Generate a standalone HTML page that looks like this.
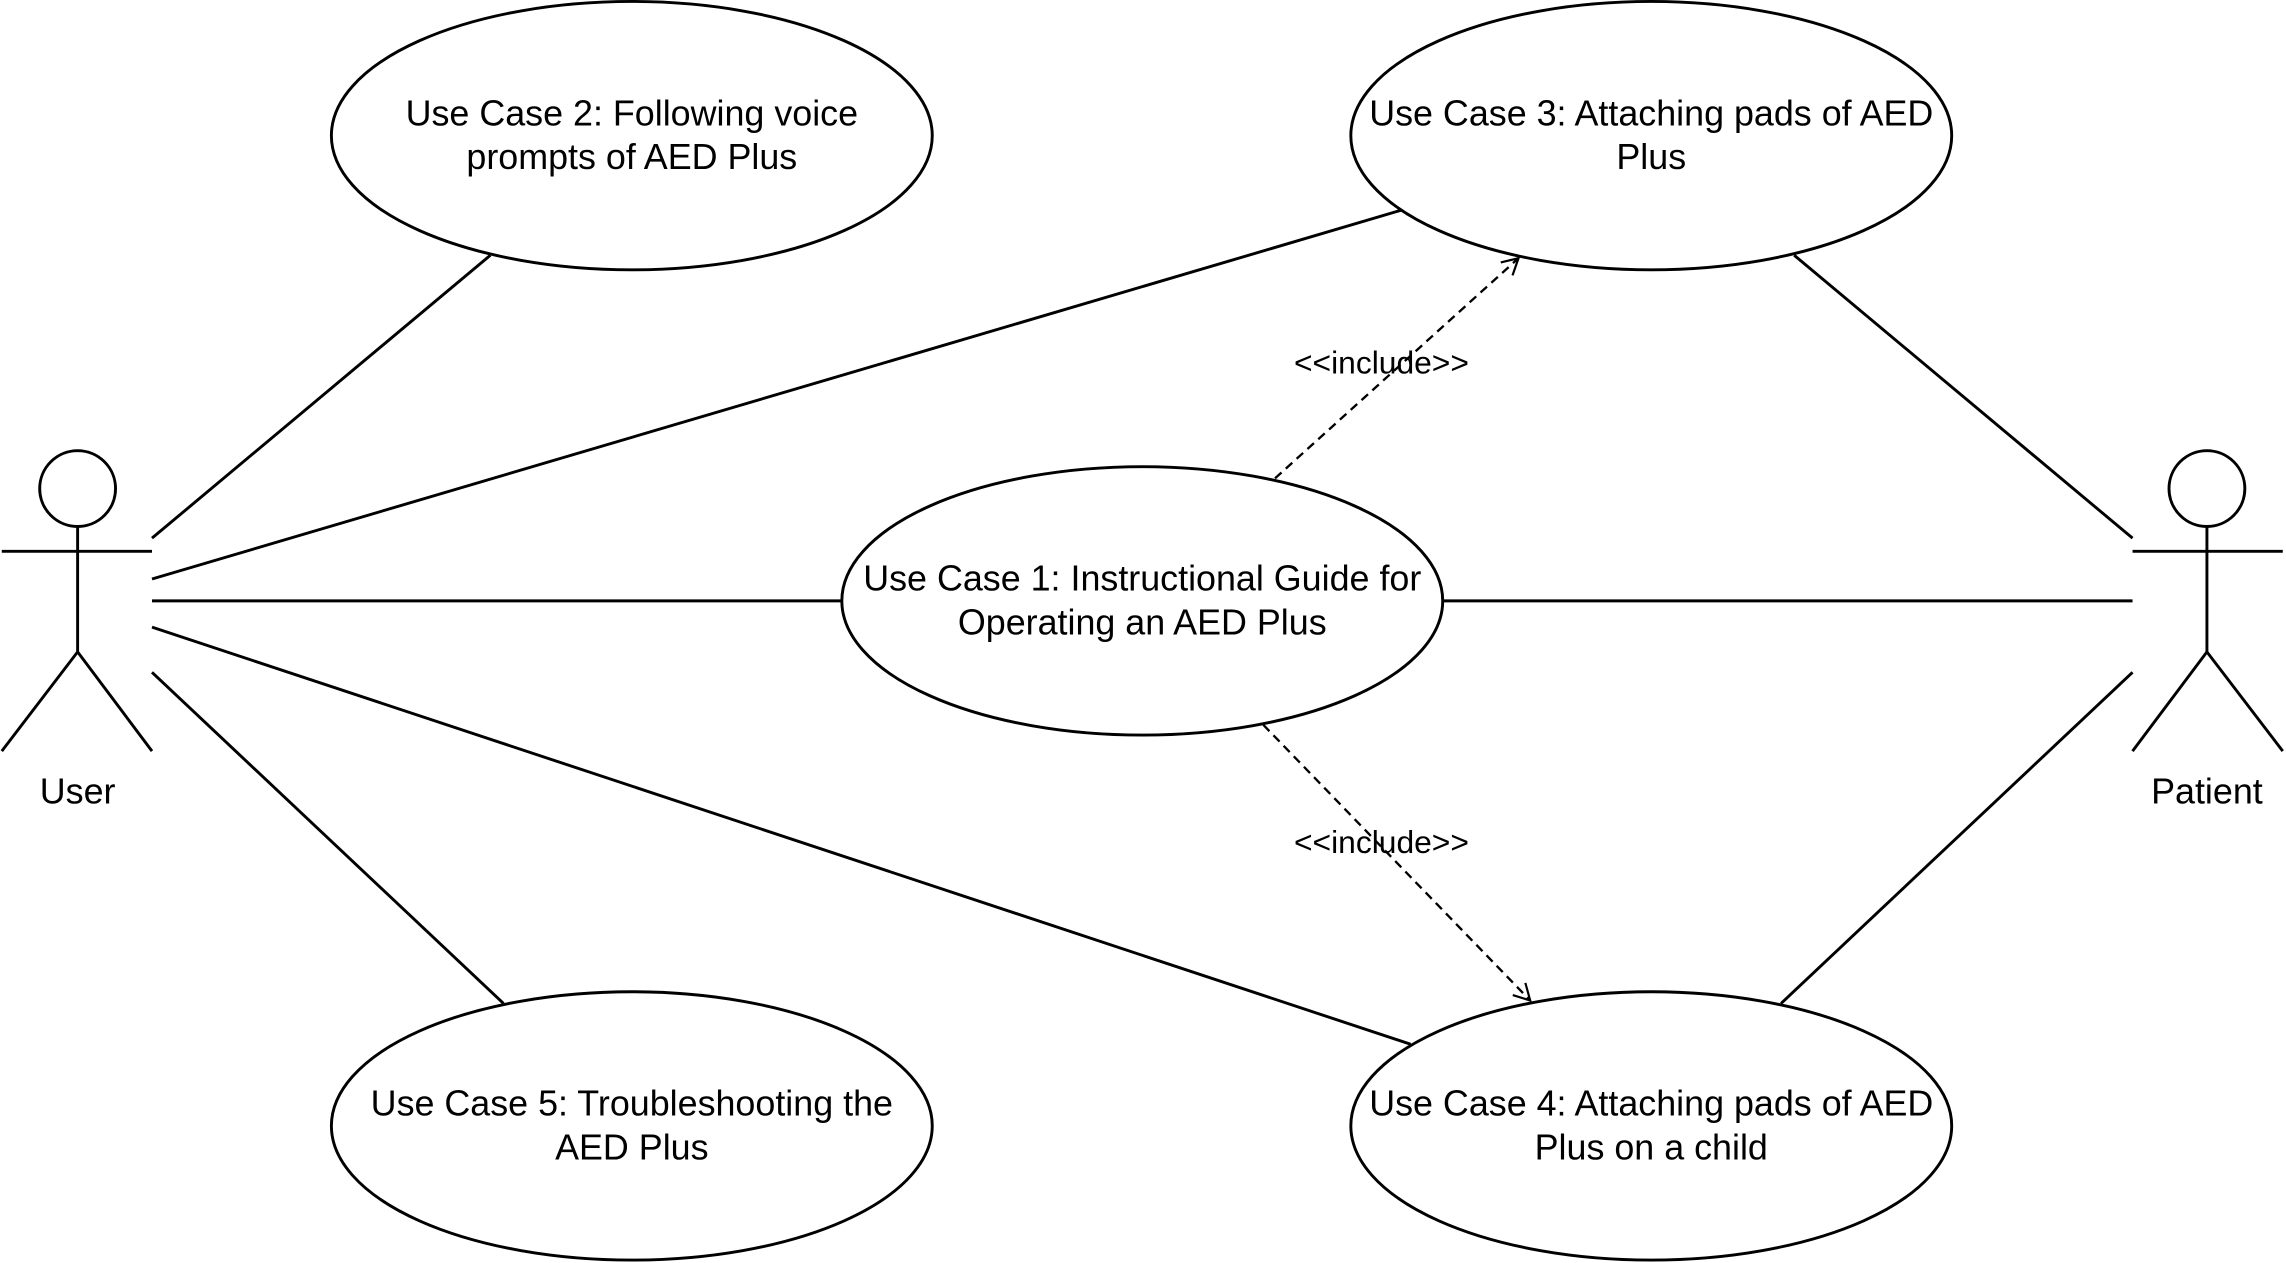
<!DOCTYPE html>
<html><head><meta charset="utf-8"><style>
html,body{margin:0;padding:0;background:#fff;}
svg{display:block;}
text{font-family:"Liberation Sans",Arial,sans-serif;font-size:24.6px;fill:#000;}
</style></head><body>
<svg width="2286" height="1263" viewBox="0 0 1567 866" xmlns="http://www.w3.org/2000/svg">
<defs>
<marker id="a" markerWidth="14" markerHeight="14" refX="12" refY="7" orient="auto" markerUnits="userSpaceOnUse">
<path d="M1,1 L12,7 L1,13" fill="none" stroke="#000" stroke-width="1.5"/>
</marker>
</defs>
<g stroke="#000" stroke-width="2" fill="none">
<line x1="104" y1="369" x2="336" y2="175"/>
<line x1="104" y1="397" x2="961" y2="144"/>
<line x1="104" y1="412" x2="577" y2="412"/>
<line x1="104" y1="430" x2="967" y2="716"/>
<line x1="104" y1="461" x2="345" y2="688"/>
<line x1="989" y1="412" x2="1462" y2="412"/>
<line x1="1230" y1="175" x2="1462" y2="369"/>
<line x1="1462" y1="461" x2="1221" y2="688"/>
<line x1="874" y1="328" x2="1041" y2="177" stroke-dasharray="6,4" stroke-width="1.6" marker-end="url(#a)"/>
<line x1="866" y1="497" x2="1049" y2="686" stroke-dasharray="6,4" stroke-width="1.6" marker-end="url(#a)"/>
<g fill="#fff">
<ellipse cx="433" cy="93" rx="206" ry="92"/>
<ellipse cx="1132" cy="93" rx="206" ry="92"/>
<ellipse cx="783" cy="412" rx="206" ry="92"/>
<ellipse cx="433" cy="772" rx="206" ry="92"/>
<ellipse cx="1132" cy="772" rx="206" ry="92"/>
<circle cx="53" cy="335" r="26"/>
<circle cx="1513" cy="335" r="26"/>
</g>
<path d="M53 361V447M1 378H104M1 515L53 447L104 515"/>
<path d="M1513 361V447M1462 378H1565M1462 515L1513 447L1565 515"/>
</g>
<g text-anchor="middle">
<text x="433" y="86">Use Case 2: Following voice</text>
<text x="433" y="116">prompts of AED Plus</text>
<text x="1132" y="86">Use Case 3: Attaching pads of AED</text>
<text x="1132" y="116">Plus</text>
<text x="783" y="405">Use Case 1: Instructional Guide for</text>
<text x="783" y="435">Operating an AED Plus</text>
<text x="433" y="765">Use Case 5: Troubleshooting the</text>
<text x="433" y="795">AED Plus</text>
<text x="1132" y="765">Use Case 4: Attaching pads of AED</text>
<text x="1132" y="795">Plus on a child</text>
<text x="53" y="551">User</text>
<text x="1513" y="551">Patient</text>
<text x="947" y="256" style="font-size:21.8px">&lt;&lt;include&gt;&gt;</text>
<text x="947" y="585" style="font-size:21.8px">&lt;&lt;include&gt;&gt;</text>
</g>
</svg>
</body></html>
